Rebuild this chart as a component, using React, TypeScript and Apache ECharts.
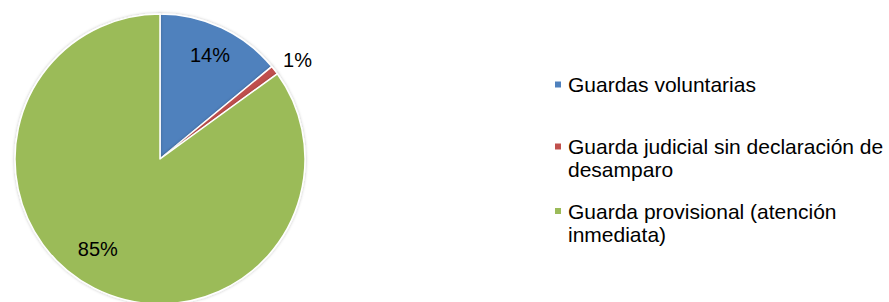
import React, { useEffect, useRef } from "react";
import * as echarts from "echarts";

const categories = [
  "Guardas voluntarias",
  "Guarda judicial sin declaración de desamparo",
  "Guarda provisional (atención inmediata)",
];
const values = [14, 1, 85];
const colors = ["#4F81BD", "#C0504D", "#9BBB59"];
const legendLabels = [
  "Guardas voluntarias",
  "\nGuarda judicial sin declaración de\ndesamparo",
  "\nGuarda provisional (atención\ninmediata)",
];

const FONT = "'Liberation Sans', Arial, sans-serif";

export default function App() {
  const ref = useRef<HTMLDivElement>(null);
  useEffect(() => {
    if (!ref.current) return;
    const chart = echarts.init(ref.current, undefined, { renderer: "svg" });
    const mainData = categories.map((name, i) => ({
      name,
      value: values[i],
      itemStyle: { color: colors[i] },
      label:
        i === 1
          ? {
              show: true,
              position: "outside",
              formatter: "{d}%",
              fontSize: 20,
              fontFamily: FONT,
              color: "#000",
              distanceToLabelLine: -5,
            }
          : { show: false },
      labelLine: { show: false, length: 17, length2: 0 },
    }));
    const labelData = categories.map((name, i) => ({
      name,
      value: values[i],
      label:
        i === 1
          ? { show: false }
          : i === 0
          ? {
              show: true,
              position: "inside",
              formatter: "{d}%",
              fontSize: 20,
              fontFamily: FONT,
              color: "#000",
              padding: [0, 0, 0, 2],
            }
          : {
              show: true,
              position: "inside",
              formatter: "{d}%\n ",
              fontSize: 20,
              lineHeight: 25,
              fontFamily: FONT,
              color: "#000",
              padding: [0, 20, 0, 0],
            },
    }));
    const legendTops = [73, 112, 176.5];
    const legends = categories.map((name, i) => ({
      show: true,
      orient: "vertical",
      left: 553,
      top: legendTops[i],
      padding: 0,
      itemWidth: 8,
      itemHeight: 8,
      icon: "rect",
      selectedMode: false,
      data: [name],
      formatter: () => legendLabels[i],
      textStyle: {
        fontSize: 21,
        fontFamily: FONT,
        color: "#000",
        lineHeight: 23,
        padding: [0, 0, 0, 1],
      },
    }));
    chart.setOption({
      animation: false,
      backgroundColor: "#fff",
      legend: legends,
      series: [
        {
          type: "pie",
          center: [160, 159],
          radius: 145,
          startAngle: 90,
          clockwise: true,
          avoidLabelOverlap: false,
          silent: true,
          itemStyle: {
            borderColor: "#fff",
            borderWidth: 1.5,
            shadowColor: "rgba(0,0,0,0.25)",
            shadowBlur: 3,
          },
          data: mainData,
        },
        {
          type: "pie",
          center: [160, 159],
          radius: [102, 122],
          startAngle: 90,
          clockwise: true,
          avoidLabelOverlap: false,
          silent: true,
          itemStyle: { color: "rgba(0,0,0,0)", borderWidth: 0 },
          labelLine: { show: false },
          emphasis: { disabled: true },
          data: labelData,
        },
      ],
    });
    return () => chart.dispose();
  }, []);
  return (
    <div
      ref={ref}
      style={{ position: "fixed", left: 0, top: 0, width: 889, height: 302 }}
    />
  );
}
